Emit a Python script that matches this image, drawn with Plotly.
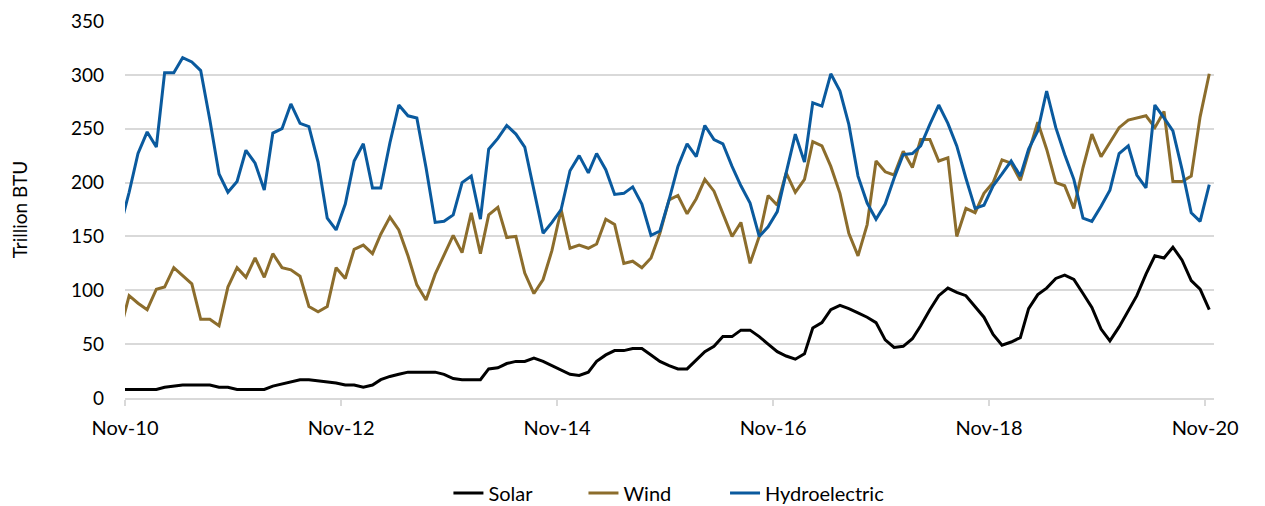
import plotly.graph_objects as go
import pandas as pd

# Monthly observations, Oct-2010 through Nov-2020 (dated mid-month)
months = pd.date_range("2010-10-01", periods=122, freq="MS") + pd.Timedelta(days=14)

solar = [
    8,
    8, 8, 8, 8, 10, 11, 12, 12, 12, 12, 10, 10,
    8, 8, 8, 8, 11, 13, 15, 17, 17, 16, 15, 14,
    12, 12, 10, 12, 17, 20, 22, 24, 24, 24, 24, 22,
    18, 17, 17, 17, 27, 28, 32, 34, 34, 37, 34, 30,
    26, 22, 21, 24, 34, 40, 44, 44, 46, 46, 40, 34,
    30, 27, 27, 35, 43, 48, 57, 57, 63, 63, 57, 50,
    43, 39, 36, 41, 65, 70, 82, 86, 83, 79, 75, 70,
    54, 47, 48, 55, 67, 82, 95, 102, 98, 95, 85, 75,
    59, 49, 52, 56, 83, 96, 102, 111, 114, 110, 97, 84,
    64, 53, 66, 81, 95, 115, 132, 130, 140, 128, 109, 101,
    82,
]

wind = [
    62,
    95, 88, 82, 101, 103, 121, 114, 106, 73, 73, 67, 103,
    121, 112, 130, 112, 134, 121, 119, 113, 85, 80, 85, 121,
    111, 138, 142, 134, 152, 168, 156, 132, 105, 91, 115, 132,
    151, 135, 172, 134, 170, 177, 149, 150, 116, 97, 110, 137,
    175, 139, 142, 139, 143, 166, 161, 125, 127, 121, 130, 153,
    184, 188, 171, 185, 203, 192, 172, 150, 163, 125, 150, 188,
    179, 209, 191, 203, 238, 234, 215, 190, 153, 132, 161, 220,
    210, 207, 229, 214, 240, 240, 220, 223, 150, 176, 172, 190,
    200, 221, 218, 202, 228, 256, 231, 200, 197, 176, 214, 245,
    224, 237, 251, 258, 260, 262, 251, 266, 201, 201, 206, 261,
    301,
]

hydro = [
    158,
    191, 227, 247, 233, 302, 302, 316, 312, 304, 258, 208, 191,
    201, 230, 218, 193, 246, 250, 273, 255, 252, 219, 167, 156,
    180, 220, 236, 195, 195, 237, 272, 262, 260, 214, 163, 164,
    170, 200, 206, 166, 231, 241, 253, 245, 233, 193, 153, 163,
    175, 211, 225, 209, 227, 212, 189, 190, 196, 180, 151, 155,
    184, 215, 236, 224, 253, 240, 236, 215, 197, 181, 150, 159,
    173, 209, 245, 219, 274, 271, 301, 285, 254, 206, 181, 166,
    180, 204, 226, 227, 234, 254, 272, 255, 234, 204, 176, 179,
    197, 208, 220, 206, 231, 248, 285, 251, 226, 203, 167, 164,
    178, 193, 227, 234, 207, 195, 272, 260, 248, 212, 172, 164,
    198,
]

tick_dates = ["2010-11-01", "2012-11-01", "2014-11-01", "2016-11-01",
              "2018-11-01", "2020-11-01"]
tick_labels = ["Nov-10", "Nov-12", "Nov-14", "Nov-16", "Nov-18", "Nov-20"]

# name, values, colour, legend id, legend x (paper fraction)
series = [
    ("Solar", solar, "#000000", "legend", 0.297),
    ("Wind", wind, "#8C6D2C", "legend2", 0.421),
    ("Hydroelectric", hydro, "#0A5A9E", "legend3", 0.551),
]

fig = go.Figure()
for name, vals, color, leg, _ in series:
    fig.add_trace(go.Scatter(
        x=months, y=vals, name=name, mode="lines",
        line=dict(color=color, width=3), legend=leg,
    ))

font_family = "Lato, 'Open Sans', sans-serif"

legend_style = dict(
    orientation="h", xanchor="left", y=-0.252, yanchor="middle",
    font=dict(size=20), bgcolor="rgba(0,0,0,0)",
)
legends = {leg: dict(x=lx, **legend_style) for _, _, _, leg, lx in series}

fig.update_layout(
    width=1265, height=506,
    margin=dict(l=125, r=51, t=21, b=108, autoexpand=False),
    plot_bgcolor="white", paper_bgcolor="white",
    font=dict(family=font_family, size=18, color="#000000"),
    showlegend=True,
    **legends,
    xaxis=dict(
        type="date", automargin=False,
        range=["2010-11-01", "2020-12-01"],
        tickmode="array", tickvals=tick_dates, ticktext=tick_labels,
        showgrid=False, zeroline=False,
        showline=True, linecolor="#D9D9D9", linewidth=1.5,
        ticks="outside", ticklen=6, tickcolor="#D9D9D9", tickwidth=1.5,
        ticklabelstandoff=5,
        tickfont=dict(size=20),
    ),
    yaxis=dict(
        automargin=False,
        range=[0, 350], tickvals=[0, 50, 100, 150, 200, 250, 300, 350],
        showgrid=True, gridcolor="#D9D9D9", gridwidth=1.5,
        zeroline=False, showline=False, ticks="",
        ticklabelstandoff=20,
        tickfont=dict(size=19),
        title=dict(text="Trillion BTU", font=dict(size=19), standoff=38),
    ),
)

fig.write_html("out.html")
